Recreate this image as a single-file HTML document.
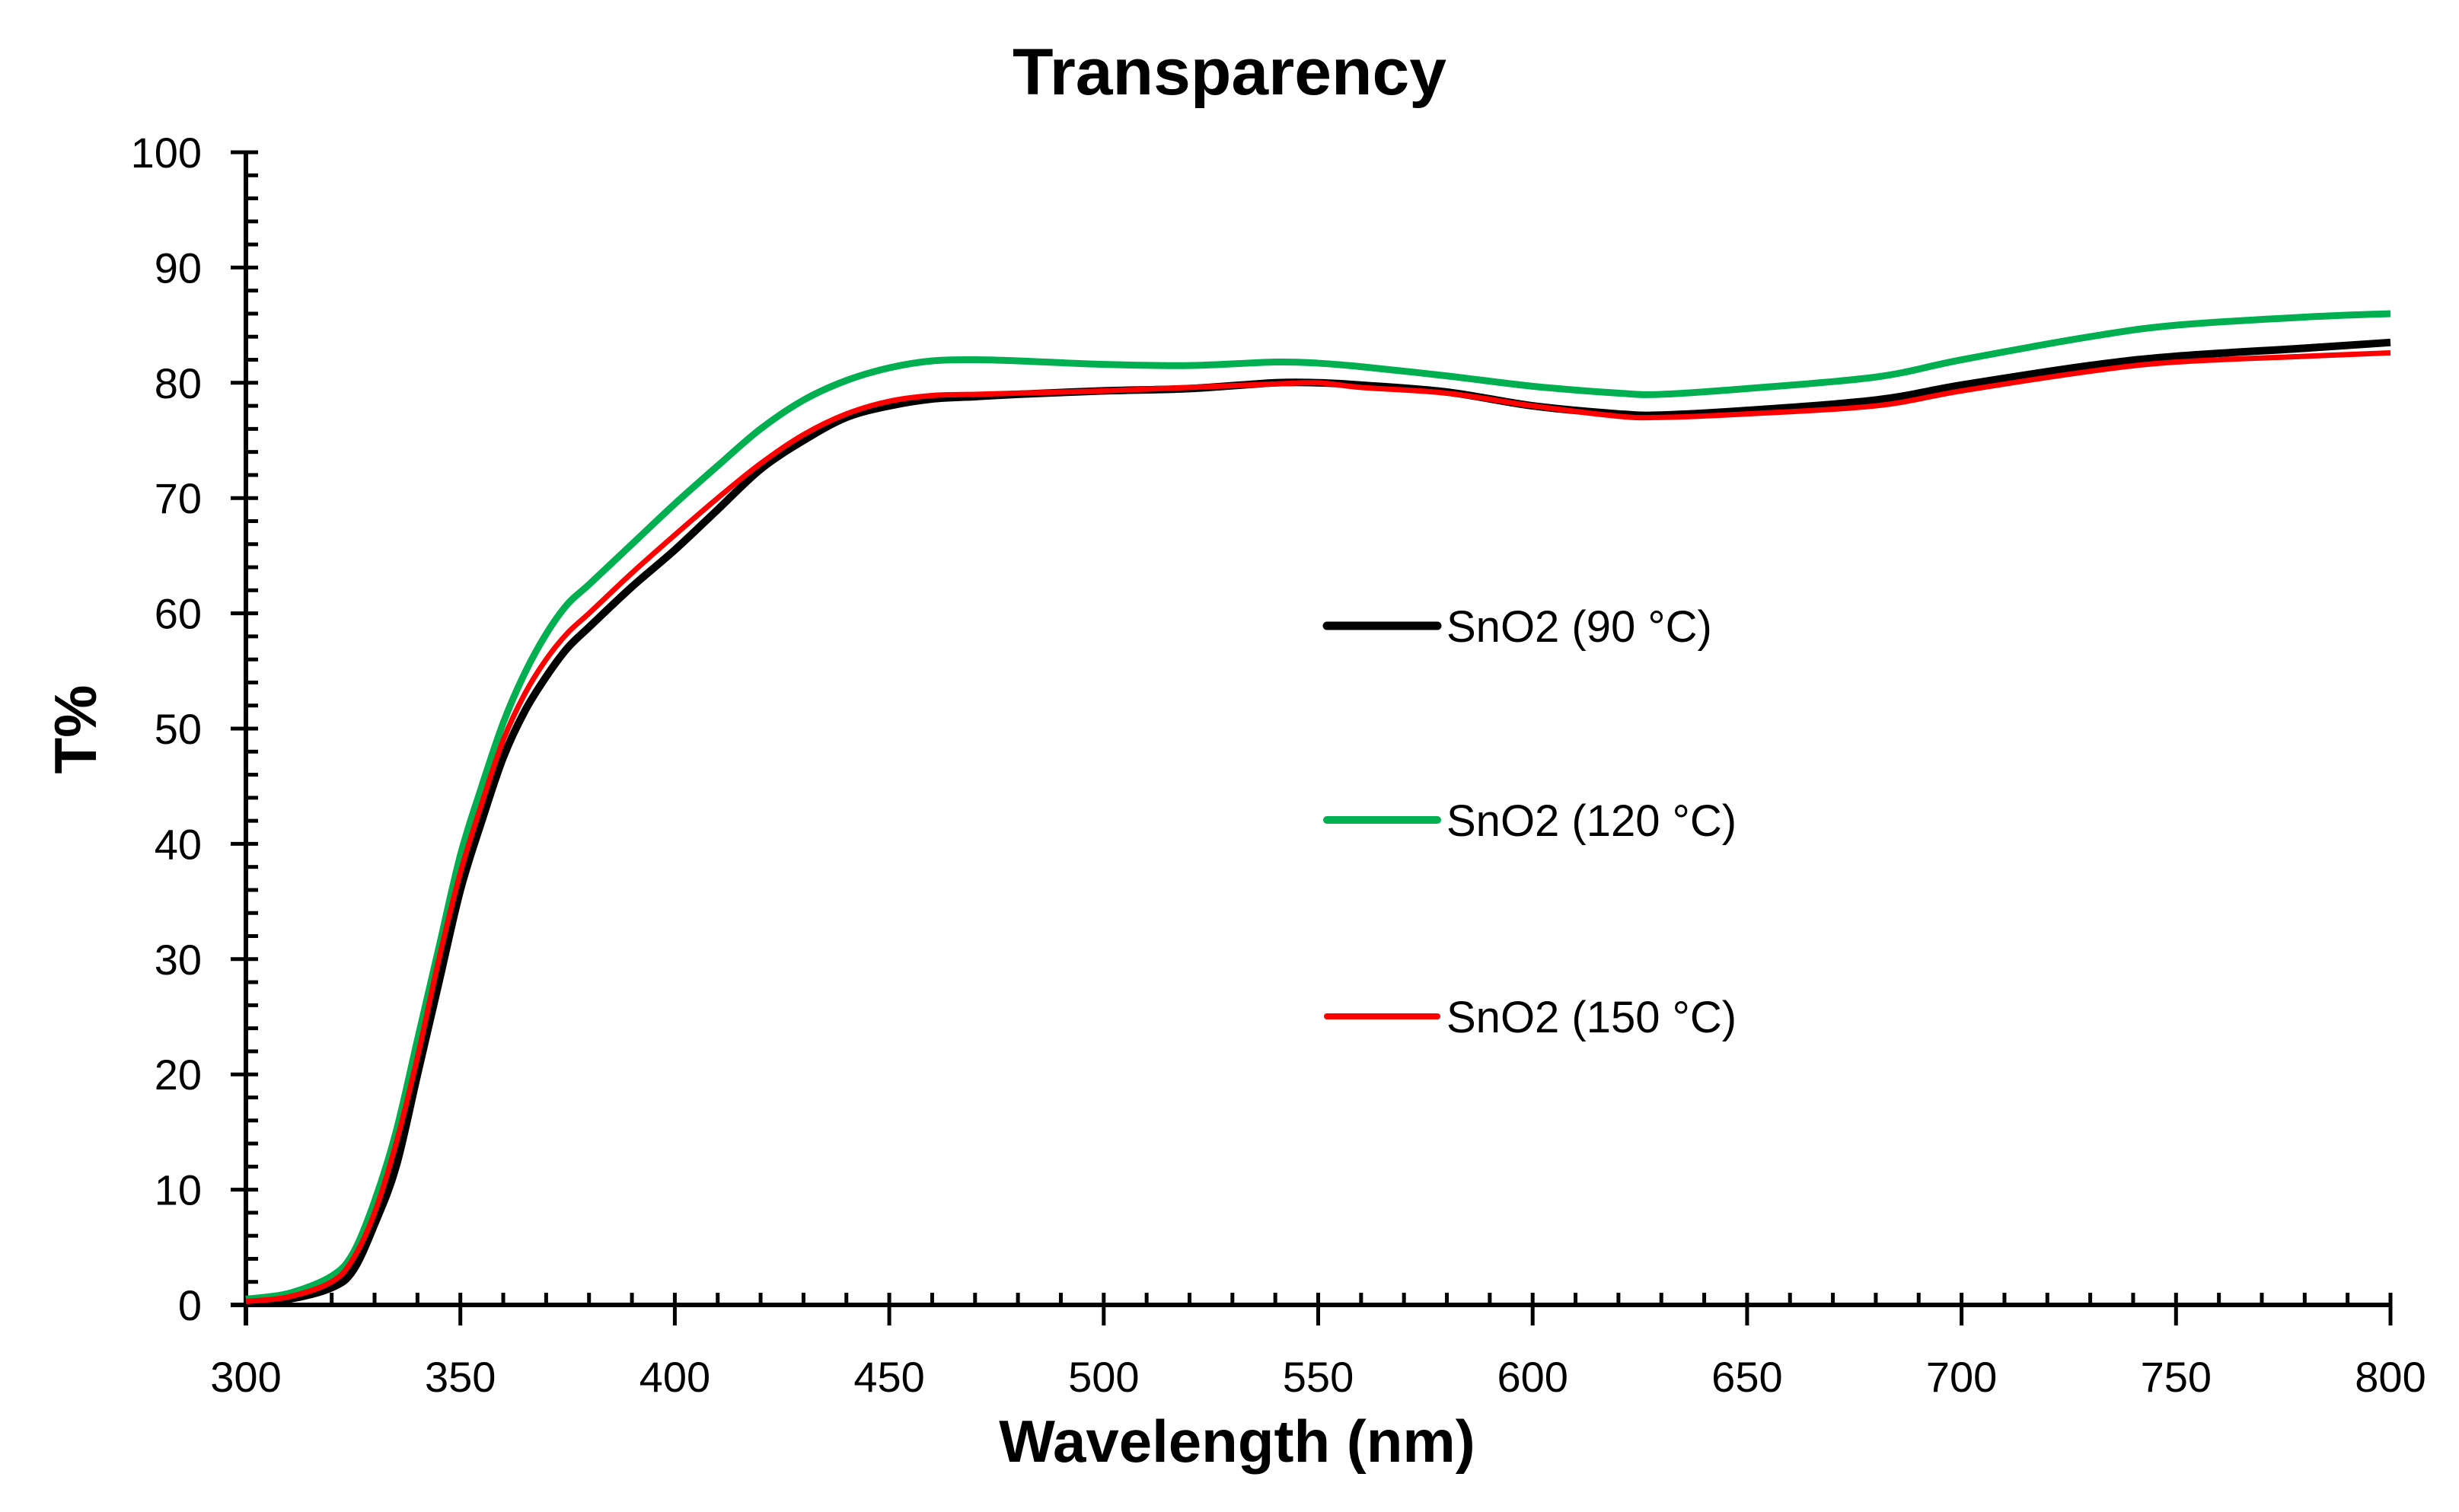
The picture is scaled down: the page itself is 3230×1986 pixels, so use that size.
<!DOCTYPE html>
<html><head><meta charset="utf-8"><style>
html,body{margin:0;padding:0;background:#fff;}
svg{display:block;font-family:"Liberation Sans",sans-serif;}
</style></head><body>
<svg id="chart" width="3230" height="1986" viewBox="0 0 3230 1986" xmlns="http://www.w3.org/2000/svg">
<rect width="3230" height="1986" fill="#fff"/>
<text x="1615" y="124" text-anchor="middle" font-size="86" font-weight="bold" textLength="570" lengthAdjust="spacingAndGlyphs">Transparency</text>
<g id="axes"></g>
<g id="series"></g>
<text x="1625" y="1920" text-anchor="middle" font-size="78" font-weight="bold">Wavelength (nm)</text>
<text transform="translate(126,958) rotate(-90)" text-anchor="middle" font-size="78" font-weight="bold">T%</text>
<g>
<line x1="1743" y1="822" x2="1888" y2="822" stroke="#000" stroke-width="11" stroke-linecap="round"/>
<text x="1900" y="843" font-size="58">SnO2 (90 °C)</text>
<line x1="1743" y1="1077" x2="1888" y2="1077" stroke="#00b050" stroke-width="10" stroke-linecap="round"/>
<text x="1900" y="1098" font-size="58">SnO2 (120 °C)</text>
<line x1="1743" y1="1335" x2="1888" y2="1335" stroke="#ff0000" stroke-width="8" stroke-linecap="round"/>
<text x="1900" y="1356" font-size="58">SnO2 (150 °C)</text>
</g>
</svg>
<script>
const wavelengths=[300,310,320,325,330,335,340,345,350,355,360,365,370,375,380,390,400,410,420,430,440,450,460,470,480,500,520,540,550,560,580,600,620,630,650,680,700,730,750,780,800];
const t90=[0.3,0.5,1.5,3,7,12,20,28,36,42,47.5,51.5,54.5,57,58.8,62.3,65.5,69,72.5,75,77,78,78.6,78.8,79,79.3,79.5,80,80,79.8,79.2,78,77.3,77.2,77.6,78.5,79.8,81.5,82.3,83,83.5];
const t120=[0.5,1,2.5,4.5,9,15,23,31,39,45,50.5,54.8,58.2,60.8,62.5,66,69.5,72.8,76,78.5,80.2,81.3,81.9,82,81.9,81.6,81.5,81.8,81.7,81.4,80.6,79.7,79.1,79,79.5,80.5,82,84,85,85.7,86];
const t150=[0.3,0.7,2,4,8,14,21.5,30,37.5,43.5,49,53,56,58.3,60,63.5,66.8,70,73,75.5,77.3,78.4,78.9,79,79.1,79.3,79.6,79.9,80,79.6,79.1,78,77.1,77,77.3,78,79.3,81,81.8,82.3,82.6];
const xTicks=[300,350,400,450,500,550,600,650,700,750,800];
const yTicks=[0,10,20,30,40,50,60,70,80,90,100];

const X0=323,X1=3140,Y0=1714,Y1=200;
function sx(v){return X0+(v-300)/(800-300)*(X1-X0);}
function sy(v){return Y0-(v-0)/(100-0)*(Y0-Y1);}
const NS="http://www.w3.org/2000/svg";
const axes=document.getElementById('axes');
function mk(tag,attrs,parent){const e=document.createElementNS(NS,tag);for(const k in attrs)e.setAttribute(k,attrs[k]);parent.appendChild(e);return e;}

let ya=mk('line',{x1:X0,y1:Y1,x2:X0,y2:Y0+27,stroke:'#000','stroke-width':6},axes);


let xa=mk('line',{x1:X0-20,y1:Y0,x2:X1,y2:Y0,stroke:'#000','stroke-width':6},axes);


for(let v=0;v<=100;v+=2){
  const major=v%10===0;
  const t=mk('line',{x1:major?X0-20:X0,x2:X0+16,y1:sy(v),y2:sy(v),stroke:'#000','stroke-width':5},axes);
  
  
}
for(let v=300;v<=800;v+=10){
  const major=v%50===0;
  const t=mk('line',{x1:sx(v),x2:sx(v),y1:Y0-16,y2:major?Y0+27:Y0,stroke:'#000','stroke-width':5},axes);
  
  
}
yTicks.forEach(v=>{
  const t=mk('text',{x:265,y:sy(v)+20,'text-anchor':'end','font-size':56},axes);
  t.textContent=v;
  
  
});
xTicks.forEach(v=>{
  const t=mk('text',{x:sx(v),y:1828,'text-anchor':'middle','font-size':56},axes);
  t.textContent=v;
  
  
});

function smoothPath(xs,ys){
  const p=xs.map((x,i)=>[sx(x),sy(ys[i])]);
  let d='M'+p[0][0]+','+p[0][1];
  for(let i=0;i<p.length-1;i++){
    const p0=p[i-1]||p[i],p1=p[i],p2=p[i+1],p3=p[i+2]||p2;
    const c1=[p1[0]+(p2[0]-p0[0])/6,p1[1]+(p2[1]-p0[1])/6];
    const c2=[p2[0]-(p3[0]-p1[0])/6,p2[1]-(p3[1]-p1[1])/6];
    d+=' C'+c1[0]+','+c1[1]+' '+c2[0]+','+c2[1]+' '+p2[0]+','+p2[1];
  }
  return d;
}
const g=document.getElementById('series');
const s90=mk('path',{d:smoothPath(wavelengths,t90),fill:'none',stroke:'#000','stroke-width':10},g);


const s120=mk('path',{d:smoothPath(wavelengths,t120),fill:'none',stroke:'#00b050','stroke-width':9},g);


const s150=mk('path',{d:smoothPath(wavelengths,t150),fill:'none',stroke:'#ff0000','stroke-width':7},g);


</script>
</body></html>
